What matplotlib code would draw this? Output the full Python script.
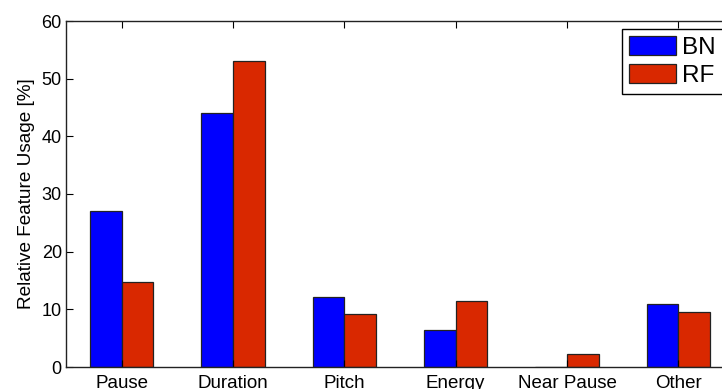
import numpy as np
import matplotlib
matplotlib.use("Agg")
import matplotlib.pyplot as plt

plt.rcParams['font.family'] = ['Liberation Sans', 'DejaVu Sans']

categories = ["Pause", "Duration", "Pitch", "Energy", "Near Pause", "Other"]
bn_usage = [27.0, 44.0, 12.1, 6.4, 0.0, 10.9]
rf_usage = [14.8, 53.0, 9.2, 11.5, 2.3, 9.5]

W, H = 722, 389
fig = plt.figure(figsize=(W / 100, H / 100), dpi=100)
# axes runs past the right edge like in the original crop
ax = fig.add_axes([66 / W, 22 / H, 668 / W, 346 / H])

x = np.arange(1, len(categories) + 1)
bw = 0.283
ax.bar(x - bw / 2, bn_usage, bw, color="#0000ff", edgecolor="#222222", linewidth=0.9, label="BN")
ax.bar(x + bw / 2, rf_usage, bw, color="#d92800", edgecolor="#222222", linewidth=0.9, label="RF")

ax.set_xlim(0.5, 6.5)
ax.set_ylim(0, 60)
ax.set_xticks(x)
ax.set_xticklabels(categories)
ax.set_yticks(np.arange(0, 61, 10))
ax.tick_params(direction="in", length=5, width=0.8, top=True, colors="black")
ax.tick_params(axis="x", pad=6, labelsize=13.5)
ax.tick_params(axis="y", pad=3, labelsize=13)
for s in ax.spines.values():
    s.set_linewidth(1.0)
    s.set_color("#222222")
ax.set_ylabel("Relative Feature Usage [%]", fontsize=13.7, labelpad=5)

leg = ax.legend(loc="upper left", bbox_to_anchor=(621.5 / W, 1 - 28.5 / H),
                bbox_transform=fig.transFigure, fontsize=17.5, frameon=True,
                fancybox=False, edgecolor="black", framealpha=1,
                handlelength=1.95, handleheight=0.86, handletextpad=0.25,
                labelspacing=0.2, borderpad=0.3, borderaxespad=0)
leg.get_frame().set_linewidth(1.0)

fig.savefig("out.png", dpi=100)
